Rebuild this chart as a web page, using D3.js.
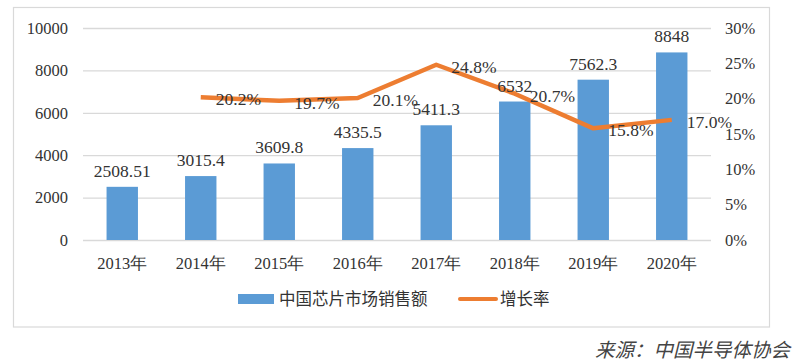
<!DOCTYPE html>
<html><head><meta charset="utf-8">
<script src="https://cdn.jsdelivr.net/npm/d3@7"></script>
<style>body{margin:0;background:#fff}svg{display:block}
.sf{font-family:"Liberation Serif","Times New Roman","DejaVu Serif",serif}
.cj{font-family:"Noto Sans CJK SC",sans-serif}
</style>
</head><body>
<svg id="c" width="800" height="363"></svg>
<script>
const categories = ["2013年","2014年","2015年","2016年","2017年","2018年","2019年","2020年"];
const salesValues = [2508.51, 3015.4, 3609.8, 4335.5, 5411.3, 6532, 7562.3, 8848];
const salesLabels = ["2508.51","3015.4","3609.8","4335.5","5411.3","6532","7562.3","8848"];
const growthYears = ["2014年","2015年","2016年","2017年","2018年","2019年","2020年"];
const growthValues = [20.2, 19.7, 20.1, 24.8, 20.7, 15.8, 17.0];
const leftTicks = [0, 2000, 4000, 6000, 8000, 10000];
const rightTicks = [0, 5, 10, 15, 20, 25, 30];
const seriesNames = ["中国芯片市场销售额", "增长率"];
const sourceText = "来源：中国半导体协会";

const svg = d3.select("#c");
const txt = "#333";
const blue = "#5B9BD5", orange = "#ED7D31", grid = "#d9d9d9";

svg.append("rect").attr("x",13.5).attr("y",7.5).attr("width",756).attr("height",319.5)
  .attr("fill","#fff").attr("stroke","#d9d9d9").attr("stroke-width",1.2);

const x = d3.scaleBand().domain(categories).range([83, 711]).paddingInner(0.6).paddingOuter(0.3);
const y = d3.scaleLinear().domain([0, 10000]).range([240, 28]);
const y2 = d3.scaleLinear().domain([0, 30]).range([240, 28]);

svg.append("g").selectAll("line").data(leftTicks).join("line")
  .attr("x1",83).attr("x2",711).attr("y1",d=>y(d)+0.5).attr("y2",d=>y(d)+0.5)
  .attr("stroke",grid).attr("stroke-width",1.3);

const la = svg.append("g").attr("transform","translate(83,0)")
  .call(d3.axisLeft(y).tickValues(leftTicks).tickSize(0).tickPadding(15).tickFormat(d3.format("d")));
la.select(".domain").remove();
la.attr("font-family",null).attr("font-size",null);
la.selectAll("text").attr("class","sf").style("font-size","16.5px").attr("fill",txt);

const ra = svg.append("g").attr("transform","translate(711,0)")
  .call(d3.axisRight(y2).tickValues(rightTicks).tickSize(0).tickPadding(14).tickFormat(d=>d+"%"));
ra.select(".domain").remove();
ra.attr("font-family",null).attr("font-size",null);
ra.selectAll("text").attr("class","sf").style("font-size","16.5px").attr("fill",txt);

const ba = svg.append("g").attr("transform","translate(0,240)")
  .call(d3.axisBottom(x).tickSize(0).tickPadding(17));
ba.select(".domain").remove();
ba.attr("font-family",null).attr("font-size",null);
ba.selectAll("text").attr("class","sf").style("font-size","16.5px").attr("fill",txt);

svg.append("g").selectAll("rect").data(salesValues).join("rect")
  .attr("x",(d,i)=>x(categories[i])).attr("width",x.bandwidth())
  .attr("y",d=>y(d)).attr("height",d=>240-y(d)).attr("fill",blue);

const cx = c => x(c) + x.bandwidth()/2;
svg.append("path").datum(growthValues)
  .attr("d", d3.line().x((d,i)=>cx(growthYears[i])).y(d=>y2(d)))
  .attr("fill","none").attr("stroke",orange).attr("stroke-width",4.5).attr("stroke-linejoin","round");

svg.append("g").selectAll("text").data(salesValues).join("text")
  .attr("class","sf")
  .attr("x",(d,i)=>cx(categories[i])).attr("y",d=>y(d)-10)
  .attr("text-anchor","middle").style("font-size","17.5px").attr("fill",txt)
  .text((d,i)=>salesLabels[i]);

svg.append("g").selectAll("text").data(growthValues).join("text")
  .attr("class","sf")
  .attr("x",(d,i)=>cx(growthYears[i])+15).attr("y",d=>y2(d)+8)
  .style("font-size","17.5px").attr("fill",txt)
  .text(d=>d.toFixed(1)+"%");

const lg = svg.append("g");
lg.append("rect").attr("x",238).attr("y",294).attr("width",36).attr("height",10).attr("fill",blue);
lg.append("text").attr("class","cj").attr("x",279).attr("y",305).style("font-size","16.5px").attr("fill",txt).text(seriesNames[0]);
lg.append("line").attr("x1",460).attr("x2",496).attr("y1",299).attr("y2",299)
  .attr("stroke",orange).attr("stroke-width",4).attr("stroke-linecap","round");
lg.append("text").attr("class","cj").attr("x",500).attr("y",305).style("font-size","16.5px").attr("fill",txt).text(seriesNames[1]);

svg.append("text").attr("class","cj").attr("x",790).attr("y",357).attr("text-anchor","end")
  .style("font-style","italic").style("font-size","19.5px").attr("fill","#444")
  .text(sourceText);
</script>
</body></html>
